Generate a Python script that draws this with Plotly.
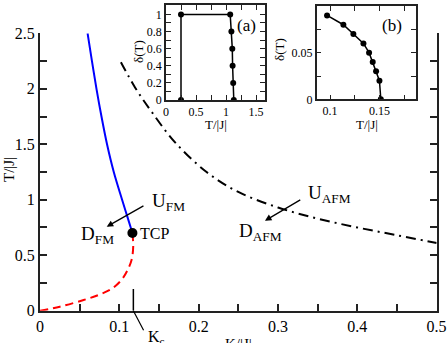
import plotly.graph_objects as go

W, H = 447, 343
FONT = "Liberation Serif"

# --------------------------------------------------
# Données
# --------------------------------------------------
# Ligne bleue (transition continue FM)
fm_K = [0.060, 0.0655, 0.0712, 0.0775, 0.0845, 0.0930, 0.1035, 0.1100, 0.1165]
fm_T = [2.50, 2.25, 2.00, 1.75, 1.50, 1.25, 1.00, 0.85, 0.70]

# Ligne rouge tiretée (premier ordre)
fo_K = [0.0, 0.025, 0.055, 0.075, 0.091, 0.103, 0.110, 0.1155, 0.1175, 0.1165]
fo_T = [0.0, 0.036, 0.096, 0.145, 0.20, 0.28, 0.36, 0.46, 0.58, 0.70]

# Ligne tiret-point (AFM)
afm_K = [0.102, 0.12, 0.14, 0.17, 0.21, 0.25, 0.30, 0.35, 0.40, 0.45, 0.50]
afm_T = [2.24, 2.01, 1.80, 1.52, 1.25, 1.07, 0.93, 0.83, 0.75, 0.68, 0.61]

# Point tricritique et Kc
tcp_K, tcp_T = [0.1165], [0.70]
KC = 0.1177

# Encart (a)
a_T = [0.25, 0.25, 1.07, 1.09, 1.105, 1.11, 1.12, 1.13]
a_d = [0.0, 1.0, 1.0, 0.8, 0.6, 0.4, 0.2, 0.0]

# Encart (b)
b_T = [0.097, 0.1135, 0.1236, 0.1338, 0.1395, 0.1432, 0.1466, 0.150, 0.1514]
b_d = [0.09, 0.08, 0.07, 0.06, 0.05, 0.04, 0.03, 0.02, 0.0]


def px_x(p):
    return p / W


def px_y(p):
    return (H - p) / H


fig = go.Figure()

# courbes principales
fig.add_trace(go.Scatter(x=fm_K, y=fm_T, mode="lines", line=dict(color="#0000ff", width=2, shape="spline")))
fig.add_trace(go.Scatter(x=fo_K, y=fo_T, mode="lines",
                         line=dict(color="#ff0000", width=2, dash="8px,5px", shape="spline")))
fig.add_trace(go.Scatter(x=afm_K, y=afm_T, mode="lines",
                         line=dict(color="black", width=2, dash="10px,5px,2px,5px", shape="spline")))
fig.add_trace(go.Scatter(x=tcp_K, y=tcp_T, mode="markers", marker=dict(color="black", size=10)))

# encarts
fig.add_trace(go.Scatter(x=a_T, y=a_d, xaxis="x2", yaxis="y2", mode="lines+markers",
                         line=dict(color="black", width=1.5), marker=dict(color="black", size=6)))
fig.add_trace(go.Scatter(x=b_T, y=b_d, xaxis="x3", yaxis="y3", mode="lines+markers",
                         line=dict(color="black", width=1.5), marker=dict(color="black", size=6)))

axis_common = dict(showgrid=False, zeroline=False, showline=True, linecolor="#222", automargin=False,
                   ticks="inside", tickcolor="#222", tickfont=dict(family=FONT, color="black"))

fig.update_layout(
    width=W, height=H,
    margin=dict(l=0, r=0, t=0, b=0, autoexpand=False),
    paper_bgcolor="white", plot_bgcolor="white",
    showlegend=False,
    font=dict(family=FONT, color="black"),
    xaxis=dict(axis_common, domain=[px_x(40), px_x(436.7)], range=[0, 0.5001], dtick=0.1,
               linewidth=2, ticklen=7, tickwidth=1.5, tickfont=dict(family=FONT, size=16),
               minor=dict(dtick=0.05, ticks="inside", ticklen=7, tickwidth=1.5, tickcolor="#222")),
    yaxis=dict(axis_common, domain=[px_y(310.7), px_y(33.3)], range=[0, 2.5001], dtick=0.5,
               linewidth=2, ticklen=7, tickwidth=1.5, mirror="ticks", tickfont=dict(family=FONT, size=16),
               minor=dict(dtick=0.25, ticks="inside", ticklen=7, tickwidth=1.5, tickcolor="#222")),
    xaxis2=dict(axis_common, domain=[px_x(166), px_x(265)], range=[0, 1.65], dtick=0.5, anchor="y2",
                mirror="ticks", linewidth=1.5, ticklen=5, tickfont=dict(family=FONT, size=12),
                minor=dict(dtick=0.25, ticks="inside", ticklen=5, tickcolor="#222")),
    yaxis2=dict(axis_common, domain=[px_y(100), px_y(5)], range=[0, 1.11], dtick=0.2, anchor="x2",
                mirror="ticks", linewidth=1.5, ticklen=5, tickfont=dict(family=FONT, size=12),
                minor=dict(dtick=0.1, ticks="inside", ticklen=5, tickcolor="#222")),
    xaxis3=dict(axis_common, domain=[px_x(316.7), px_x(416)], range=[0.0865, 0.187],
                tickvals=[0.1, 0.15], ticktext=["0.1", "0.15"], anchor="y3",
                mirror="ticks", linewidth=1.5, ticklen=5, tickfont=dict(family=FONT, size=12),
                minor=dict(tickvals=[0.125, 0.175], ticks="inside", ticklen=5, tickcolor="#222")),
    yaxis3=dict(axis_common, domain=[px_y(99.3), px_y(6)], range=[0, 0.1001],
                tickvals=[0, 0.05, 0.1], ticktext=["0", "0.05", "0.1"], anchor="x3",
                mirror="ticks", linewidth=1.5, ticklen=5, tickfont=dict(family=FONT, size=12),
                minor=dict(tickvals=[0.025, 0.075], ticks="inside", ticklen=5, tickcolor="#222")),
)

# segment vertical de Kc
fig.add_shape(type="line", xref="x", yref="y", x0=KC, x1=KC, y0=0, y1=0.195,
              line=dict(color="black", width=1.5))


def note(text, x, y, size, xref="paper", yref="paper", **kw):
    fig.add_annotation(text=text, x=x, y=y, xref=xref, yref=yref, showarrow=False,
                       font=dict(family=FONT, size=size, color="black"), **kw)


# textes principaux
note("U<sub>FM</sub>", px_x(150), px_y(188), 19, xanchor="left", yanchor="top")
note("D<sub>FM</sub>", px_x(79), px_y(221), 19, xanchor="left", yanchor="top")
note("TCP", px_x(138), px_y(233), 16, xanchor="left", yanchor="middle")
note("U<sub>AFM</sub>", px_x(306), px_y(180), 19, xanchor="left", yanchor="top")
note("D<sub>AFM</sub>", px_x(237), px_y(218), 19, xanchor="left", yanchor="top")
note("K<sub>c</sub>", px_x(146), px_y(326), 16, xanchor="left", yanchor="top")
note("K/|J|", px_x(238), px_y(334), 15, xanchor="center", yanchor="top")
note("T/|J|", px_x(9), px_y(170), 15, textangle=-90, xanchor="center", yanchor="middle")

# textes des encarts
note("(a)", px_x(246), px_y(25), 17, xanchor="center", yanchor="middle")
note("(b)", px_x(392), px_y(25), 17, xanchor="center", yanchor="middle")
note("T/|J|", px_x(216), px_y(115), 13, xanchor="center", yanchor="top")
note("T/|J|", px_x(367), px_y(115), 13, xanchor="center", yanchor="top")
note("δ(T)", px_x(138), px_y(52), 13, textangle=-90, xanchor="center", yanchor="middle")
note("δ(T)", px_x(279), px_y(50), 13, textangle=-90, xanchor="center", yanchor="middle")

# flèches
for x, y, ax, ay in [(0.0841, 0.757, 0.1323, 0.953), (0.2836, 0.811, 0.330, 1.007)]:
    fig.add_annotation(x=x, y=y, ax=ax, ay=ay, xref="x", yref="y", axref="x", ayref="y",
                       text="", showarrow=True, arrowhead=2, arrowsize=1, arrowwidth=1.3,
                       arrowcolor="black")

# trait oblique sous l'axe pour Kc
fig.add_annotation(x=KC, y=0, xref="x", yref="y", ax=11, ay=21, text="", showarrow=True,
                   arrowhead=0, arrowwidth=1.2, arrowcolor="black")

fig.write_html("out.html", config={"displayModeBar": False},
               post_script="document.body.style.margin='0';")
